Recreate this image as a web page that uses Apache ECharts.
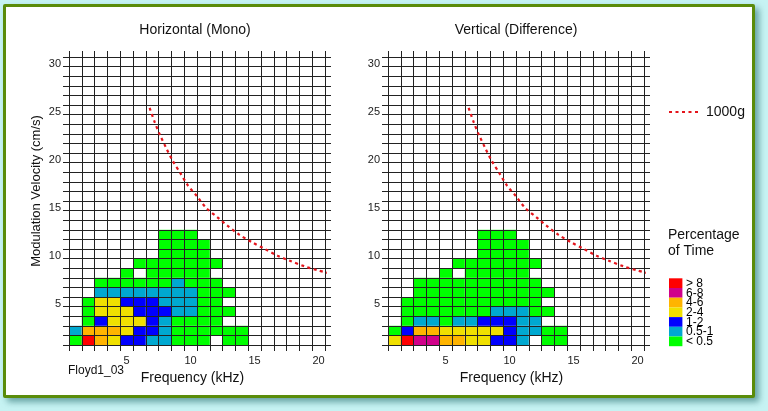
<!DOCTYPE html>
<html>
<head>
<meta charset="utf-8">
<script src="https://cdn.jsdelivr.net/npm/echarts@6/dist/echarts.min.js"></script>
<style>
html,body{margin:0;padding:0;background:#c6f3f3;width:768px;height:411px;overflow:hidden}
#frame{position:absolute;left:3px;top:4px;width:752px;height:394px;box-sizing:border-box;border:3.5px solid #5a8c0a;background:#fff;box-shadow:4px 4px 6px rgba(40,110,110,.6);border-radius:2px}
#c{position:absolute;left:0;top:0;width:768px;height:411px}
</style>
</head>
<body>
<div id="frame"></div>
<div id="c"></div>
<script>
// ---- data ----
const binLabels = ['< 0.5', '0.5-1', '1-2', '2-4', '4-6', '6-8', '> 8'];
const binColors = ['#00ff00', '#00a8d0', '#0000ff', '#f0e000', '#ffb400', '#d0008a', '#ff0000'];
const xTickLabels = [5, 10, 15, 20];
const yTickLabels = [5, 10, 15, 20, 25, 30];
const _ = null;
// rows = modulation velocity 1..12 cm/s (bottom to top); columns = frequency 1..14 kHz; value = bin index
const horizontalRows = [
  [0,6,4,3,2,2,1,1,0,0,0,_,0,0],
  [1,4,4,4,3,2,2,1,0,0,0,0,0,0],
  [_,0,2,3,3,3,2,1,0,0,0,0,_,_],
  [_,0,3,3,3,2,2,2,1,1,0,0,0,_],
  [_,0,3,3,2,2,2,1,1,1,0,0,_,_],
  [_,_,1,1,1,1,1,1,1,1,0,0,0,_],
  [_,_,0,0,0,0,0,0,1,0,0,0,_,_],
  [_,_,_,_,0,_,0,0,0,0,0,_,_,_],
  [_,_,_,_,_,0,0,0,0,0,0,0,_,_],
  [_,_,_,_,_,_,_,0,0,0,0,_,_,_],
  [_,_,_,_,_,_,_,0,0,0,0,_,_,_],
  [_,_,_,_,_,_,_,0,0,0,_,_,_,_]
];
const verticalRows = [
  [3,6,5,5,4,4,3,3,2,2,1,_,0,0],
  [0,2,4,4,3,3,3,3,3,2,1,1,0,0],
  [_,0,1,1,0,1,1,2,2,2,1,1,_,_],
  [_,0,0,0,0,0,0,0,1,1,1,0,0,_],
  [_,0,0,0,0,0,0,0,0,0,0,0,_,_],
  [_,_,0,0,0,0,0,0,0,0,0,0,0,_],
  [_,_,0,0,0,0,0,0,0,0,0,0,_,_],
  [_,_,_,_,0,_,0,0,0,0,0,_,_,_],
  [_,_,_,_,_,0,0,0,0,0,0,0,_,_],
  [_,_,_,_,_,_,_,0,0,0,0,_,_,_],
  [_,_,_,_,_,_,_,0,0,0,0,_,_,_],
  [_,_,_,_,_,_,_,0,0,0,_,_,_,_]
];
// 1000g line (frequency kHz, velocity cm/s)
const curveFreq = [6.8, 7.2, 7.6, 8.1, 8.6, 9.2, 9.8, 10.5, 11.2, 12.1, 12.9, 13.8, 14.8, 15.8, 16.8, 17.8, 18.9, 20.0, 20.9];
const curveVel  = [25.2, 23.7, 22.4, 21.0, 19.7, 18.4, 17.1, 16.0, 14.8, 13.8, 12.9, 12.0, 11.2, 10.5, 9.8, 9.25, 8.7, 8.25, 7.95];
const panelTitles = ['Horizontal (Mono)', 'Vertical (Difference)'];

// ---- build ----
const FONT = "'Liberation Sans', Arial, Helvetica, sans-serif";
const LINE = '#222';
function cells(rows) {
  const out = [];
  rows.forEach((row, r) => row.forEach((code, c) => { if (code !== null) out.push([c + 1, r + 1, code]); }));
  return out;
}
const curve = curveFreq.map((f, i) => [f, curveVel[i]]);
const grids = [
  {left: 69, top: 57, width: 256, height: 288},
  {left: 388, top: 57, width: 256, height: 288}
];
const xAxis = [], yAxis = [], series = [];
grids.forEach((g, gi) => {
  const tick = {show: true, length: 6, lineStyle: {color: LINE, width: 1}};
  xAxis.push({gridIndex: gi, type: 'value', min: 0.5, max: 20.5, interval: 1, position: 'bottom', z: 3,
    axisLine: {show: false}, axisTick: tick, axisLabel: {show: false},
    splitLine: {show: true, lineStyle: {color: LINE, width: 1}}});
  xAxis.push({gridIndex: gi, type: 'value', min: 0.5, max: 20.5, interval: 1, position: 'top', z: 3,
    axisLine: {show: false}, axisTick: tick, axisLabel: {show: false}, splitLine: {show: false}});
  xAxis.push({gridIndex: gi, type: 'value', min: 0.5, max: 20.5, interval: 0.5, position: 'bottom',
    axisLine: {show: false}, axisTick: {show: false}, splitLine: {show: false},
    axisLabel: {margin: 10, fontSize: 11, color: LINE, fontFamily: FONT,
      formatter: v => xTickLabels.indexOf(v) >= 0 ? String(v) : ''},
    name: 'Frequency (kHz)', nameLocation: 'middle', nameGap: 22,
    nameTextStyle: {fontSize: 14, color: '#111', fontFamily: FONT, padding: [0, 9, 0, 0]}});
  yAxis.push({gridIndex: gi, type: 'value', min: 0.5, max: 30.5, interval: 1, position: 'left', z: 3,
    axisLine: {show: false}, axisTick: tick, axisLabel: {show: false},
    splitLine: {show: true, lineStyle: {color: LINE, width: 1}}});
  yAxis.push({gridIndex: gi, type: 'value', min: 0.5, max: 30.5, interval: 1, position: 'right', z: 3,
    axisLine: {show: false}, axisTick: tick, axisLabel: {show: false}, splitLine: {show: false}});
  const yl = {gridIndex: gi, type: 'value', min: 0.5, max: 30.5, interval: 0.5, position: 'left',
    axisLine: {show: false}, axisTick: {show: false}, splitLine: {show: false},
    axisLabel: {margin: 8, fontSize: 11, color: LINE, fontFamily: FONT,
      formatter: v => yTickLabels.indexOf(v) >= 0 ? '{t|' + v + '}' : '',
      rich: {t: {fontSize: 11, color: LINE, fontFamily: FONT, padding: [5, 0, 0, 0]}}}};
  if (gi === 0) {
    yl.name = 'Modulation Velocity (cm/s)';
    yl.nameLocation = 'middle';
    yl.nameGap = 26;
    yl.nameTextStyle = {fontSize: 13, color: '#111', fontFamily: FONT, padding: [0, 0, 0, 20]};
  }
  yAxis.push(yl);
});
[horizontalRows, verticalRows].forEach((rows, gi) => {
  series.push({
    type: 'custom', name: panelTitles[gi], xAxisIndex: gi * 3, yAxisIndex: gi * 3, z: 1,
    data: cells(rows),
    renderItem: (params, api) => {
      const f = api.value(0), v = api.value(1);
      const p0 = api.coord([f - 0.5, v + 0.5]);
      const p1 = api.coord([f + 0.5, v - 0.5]);
      return {type: 'rect', shape: {x: p0[0], y: p0[1], width: p1[0] - p0[0], height: p1[1] - p0[1]},
        style: {fill: binColors[api.value(2)]}};
    }
  });
});
[0, 1].forEach(gi => {
  series.push({
    type: 'line', name: '1000g', xAxisIndex: gi * 3, yAxisIndex: gi * 3, z: 5,
    data: curve, symbol: 'none', smooth: 0.3, clip: false, silent: true,
    lineStyle: {color: '#e4141b', width: 2.2, type: [3, 3.5]}
  });
});

// colour key (legend for the bins)
const keyLeft = 669, keyTop = 278.3, keyW = 13.4, keyH = 9.7;
const keyGraphics = [];
binLabels.slice().reverse().forEach((lab, i) => {
  const k = binLabels.length - 1 - i;
  keyGraphics.push({type: 'rect', shape: {x: keyLeft, y: keyTop + i * keyH, width: keyW, height: keyH},
    style: {fill: binColors[k]}});
  keyGraphics.push({type: 'text', x: keyLeft + 17, y: keyTop + (i + 0.5) * keyH + 0.5,
    style: {text: lab, font: '12px ' + FONT, fill: '#000', align: 'left', verticalAlign: 'middle'}});
});

const chart = echarts.init(document.getElementById('c'), null, {renderer: 'canvas'});
chart.setOption({
  backgroundColor: 'transparent',
  animation: false,
  grid: grids,
  xAxis, yAxis, series,
  legend: {data: ['1000g'], left: 668, top: 105, padding: 0, itemWidth: 32, itemHeight: 10, selectedMode: false,
    itemStyle: {opacity: 0},
    textStyle: {fontSize: 14, color: '#111', fontFamily: FONT}},
  graphic: [
    {type: 'text', x: 195, y: 30, style: {text: panelTitles[0], font: '14px ' + FONT, fill: '#111', align: 'center', verticalAlign: 'middle'}},
    {type: 'text', x: 516, y: 30, style: {text: panelTitles[1], font: '14px ' + FONT, fill: '#111', align: 'center', verticalAlign: 'middle'}},
    {type: 'text', x: 68, y: 371, style: {text: 'Floyd1_03', font: '12px ' + FONT, fill: '#111', align: 'left', verticalAlign: 'middle'}},
    {type: 'text', x: 668, y: 227, style: {text: 'Percentage\nof Time', font: '14px ' + FONT, lineHeight: 16, fill: '#111', align: 'left', verticalAlign: 'top'}}
  ].concat(keyGraphics)
});
</script>
</body>
</html>
